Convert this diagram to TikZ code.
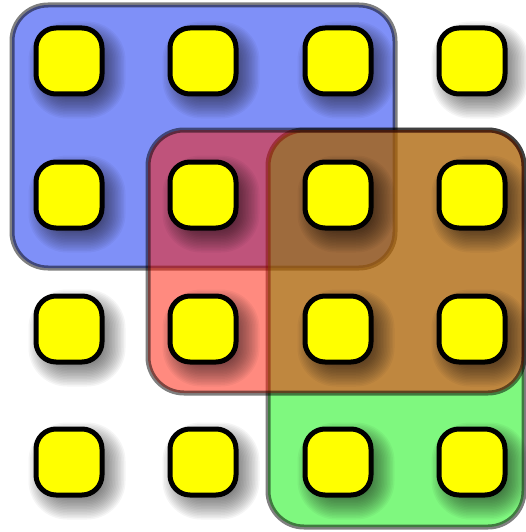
\documentclass[tikz,border=0pt]{standalone}
\definecolor{tileyellow}{RGB}{255,255,0}
\definecolor{regblue}{RGB}{0,34,242}
\definecolor{regred}{RGB}{255,22,0}
\definecolor{reggreen}{RGB}{0,242,0}
\begin{document}
\begin{tikzpicture}[x=1pt,y=-1pt,
  region/.style={draw=black,draw opacity=0.5,fill opacity=0.5,line width=5pt,rounded corners=36pt},
  tile/.style={rectangle,draw=black,fill=tileyellow,line width=5pt,rounded corners=20pt,minimum size=66pt,inner sep=0pt},
  shadowlayer/.style={black,opacity=0.04}]
\useasboundingbox (0,0) rectangle (526,532);
\path[region,fill=regblue] (12,5) rectangle (395,268);
\path[region,fill=reggreen] (268,130) rectangle (524,527);
\path[region,fill=regred] (148,130) rectangle (524,393);
\foreach \cx [count=\i] in {69,203,338,472}{
  \foreach \cy [count=\j] in {61,195,329,462}{
    \foreach \k in {0,...,19}{
      \pgfmathsetmacro\h{20+1.5*\k}
      \pgfmathsetmacro\rr{10+1.5*\k}
      \fill[shadowlayer,rounded corners=\rr pt] ({\cx+8-\h},{\cy+9-\h}) rectangle ({\cx+8+\h},{\cy+9+\h});
    }
    \node[tile] (t\j\i) at (\cx,\cy) {};
  }
}
\end{tikzpicture}
\end{document}
